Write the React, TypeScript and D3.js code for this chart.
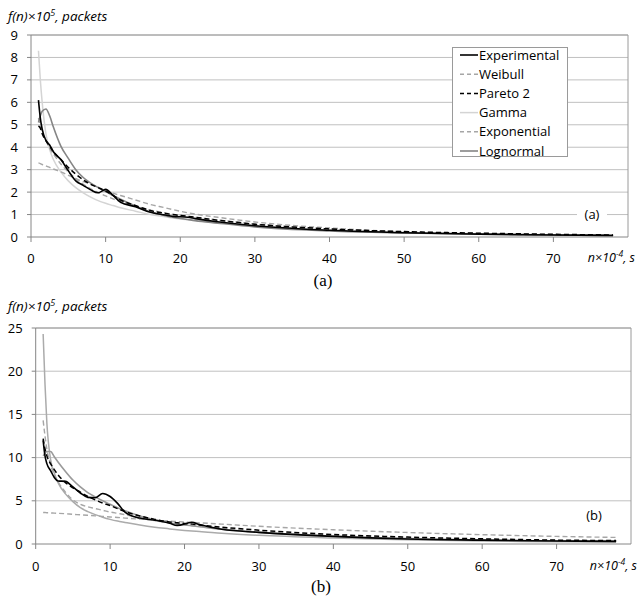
import React from 'react';
import * as d3 from 'd3';

// sample points along n (x 10^-4 s), shared by every series
const nGrid = [1, 1.25, 1.5, 2, 2.5, 3, 4, 5, 6, 7, 8, 9, 10, 11, 12, 14, 16, 18, 19, 21, 22, 25, 30, 40, 50, 60, 70, 78];

// panel (a)
const aExperimental = [6.1, 5.3, 4.8, 4.3, 4.1, 3.8, 3.45, 2.95, 2.5, 2.3, 2.1, 1.97, 2.12, 1.85, 1.55, 1.35, 1.1, 0.98, 0.92, 0.88, 0.82, 0.68, 0.5, 0.3, 0.19, 0.13, 0.09, 0.07];
const aWeibull = [5.3, 5.0, 4.7, 4.3, 3.95, 3.7, 3.25, 2.9, 2.6, 2.35, 2.15, 1.98, 1.83, 1.7, 1.58, 1.38, 1.2, 1.07, 1.01, 0.92, 0.87, 0.76, 0.58, 0.36, 0.23, 0.16, 0.11, 0.08];
const aPareto = [4.95, 4.85, 4.6, 4.3, 4.05, 3.8, 3.45, 3.1, 2.8, 2.55, 2.35, 2.2, 2.05, 1.85, 1.65, 1.4, 1.18, 1.05, 1.0, 0.92, 0.88, 0.75, 0.57, 0.36, 0.24, 0.17, 0.12, 0.09];
const aGamma = [8.3, 7.0, 6.0, 4.6, 3.9, 3.45, 2.9, 2.5, 2.2, 1.97, 1.78, 1.62, 1.5, 1.4, 1.3, 1.15, 1.0, 0.9, 0.85, 0.77, 0.73, 0.63, 0.48, 0.3, 0.2, 0.14, 0.1, 0.08];
const aExponential = [3.3, 3.27, 3.23, 3.17, 3.1, 3.03, 2.9, 2.75, 2.6, 2.47, 2.35, 2.22, 2.05, 1.95, 1.85, 1.65, 1.45, 1.3, 1.22, 1.08, 1.02, 0.88, 0.67, 0.4, 0.23, 0.14, 0.09, 0.07];
const aLognormal = [5.1, 5.4, 5.6, 5.7, 5.4, 4.9, 4.05, 3.5, 3.0, 2.65, 2.4, 2.2, 2.02, 1.85, 1.68, 1.38, 1.12, 0.95, 0.88, 0.78, 0.73, 0.62, 0.45, 0.27, 0.18, 0.12, 0.09, 0.07];

// panel (b)
const bExperimental = [12.0, 10.2, 9.3, 8.5, 7.7, 7.3, 7.25, 6.6, 5.9, 5.4, 5.35, 5.85, 5.5, 4.7, 3.7, 3.0, 2.75, 2.4, 2.15, 2.5, 2.25, 1.7, 1.35, 0.88, 0.58, 0.45, 0.35, 0.3];
const bWeibull = [14.3, 12.5, 11, 9.2, 8.0, 7.2, 6.0, 5.1, 4.6, 4.3, 4.1, 3.9, 3.7, 3.55, 3.4, 3.0, 2.7, 2.45, 2.35, 2.15, 2.05, 1.8, 1.4, 1.0, 0.7, 0.52, 0.4, 0.35];
const bPareto = [12.2, 11.0, 10.2, 9.3, 8.6, 8.0, 7.1, 6.5, 6.0, 5.5, 5.1, 4.75, 4.45, 4.1, 3.75, 3.25, 2.85, 2.55, 2.45, 2.3, 2.2, 1.95, 1.6, 1.1, 0.8, 0.6, 0.45, 0.4];
const bGamma = [24.3, 18.5, 14, 9.8, 8.2, 7.1, 5.8, 4.9, 4.2, 3.75, 3.4, 3.1, 2.85, 2.65, 2.5, 2.2, 1.95, 1.75, 1.65, 1.5, 1.45, 1.25, 1.0, 0.7, 0.5, 0.35, 0.27, 0.22];
const bExponential = [3.65, 3.64, 3.62, 3.6, 3.57, 3.55, 3.5, 3.43, 3.38, 3.32, 3.26, 3.2, 3.13, 3.07, 3.0, 2.88, 2.77, 2.65, 2.6, 2.5, 2.45, 2.3, 2.05, 1.65, 1.33, 1.08, 0.88, 0.76];
const bLognormal = [10.2, 10.5, 10.7, 10.7, 10.1, 9.5, 8.4, 7.4, 6.6, 5.95, 5.45, 5.0, 4.6, 4.2, 3.85, 3.25, 2.8, 2.45, 2.3, 2.1, 2.0, 1.7, 1.35, 0.9, 0.62, 0.45, 0.35, 0.3];

const seriesNames = ['Experimental', 'Weibull', 'Pareto 2', 'Gamma', 'Exponential', 'Lognormal'];
const xTicks = [0, 10, 20, 30, 40, 50, 60, 70];
const aYTicks = [0, 1, 2, 3, 4, 5, 6, 7, 8, 9];
const bYTicks = [0, 5, 10, 15, 20, 25];

const FONT = "'Open Sans', sans-serif";

type Style = { color: string; width: number; dash?: string };

const aStyles: Style[] = [
  { color: '#000000', width: 1.6 },
  { color: '#a6a6a6', width: 1.4, dash: '5,3' },
  { color: '#000000', width: 1.5, dash: '5,3' },
  { color: '#d4d4d4', width: 1.5 },
  { color: '#a6a6a6', width: 1.4, dash: '5,3' },
  { color: '#858585', width: 1.6 },
];
const bStyles: Style[] = [
  { color: '#000000', width: 1.6 },
  { color: '#a6a6a6', width: 1.4, dash: '5,3' },
  { color: '#000000', width: 1.5, dash: '5,3' },
  { color: '#ababab', width: 1.5 },
  { color: '#a6a6a6', width: 1.4, dash: '5,3' },
  { color: '#9a9a9a', width: 1.6 },
];

type PanelProps = {
  left: number; right: number; top: number; bottom: number;
  yMax: number; yTicks: number[];
  series: number[][]; styles: Style[];
  tag: string; tagX: number; tagY: number;
  titleY: number; labelGap: number; unitRight: number; showLegend: boolean;
};

const Panel = (p: PanelProps) => {
  const x = d3.scaleLinear().domain([0, 80]).range([p.left, p.right]);
  const y = d3.scaleLinear().domain([0, p.yMax]).range([p.bottom, p.top]);
  const line = d3.line<number>()
    .x((_, i) => x(nGrid[i]))
    .y(d => y(d))
    .curve(d3.curveMonotoneX);

  // draw order: lighter fits first, experimental on top
  const order = [3, 4, 1, 5, 2, 0];

  return (
    <g>
      <text x={8} y={p.titleY} fontFamily={FONT} fontSize={13.5} fontStyle="italic" fill="#000">
        f(n)×10<tspan dy={-5} fontSize={9}>5</tspan><tspan dy={5}>, packets</tspan>
      </text>
      {p.yTicks.map(t => (
        <g key={t}>
          {t > 0 && <line x1={p.left} x2={p.right} y1={y(t)} y2={y(t)} stroke="#c0c0c0" strokeWidth={1} />}
          <line x1={p.left - 4} x2={p.left} y1={y(t)} y2={y(t)} stroke="#868686" />
          <text x={p.left - 13} y={y(t)} dy="0.35em" textAnchor="end" fontFamily={FONT} fontSize={13} fill="#000">{t}</text>
        </g>
      ))}
      <line x1={p.right} x2={p.right} y1={p.top} y2={p.bottom} stroke="#9a9a9a" />
      <line x1={p.left} x2={p.right} y1={p.top} y2={p.top} stroke="#9a9a9a" />
      <line x1={p.left} x2={p.left} y1={p.top} y2={p.bottom} stroke="#868686" />
      <line x1={p.left} x2={p.right} y1={p.bottom} y2={p.bottom} stroke="#868686" />
      {xTicks.map(t => (
        <g key={t}>
          <line x1={x(t)} x2={x(t)} y1={p.bottom} y2={p.bottom + 5} stroke="#868686" />
          <text x={x(t)} y={p.bottom + p.labelGap} dy="0.35em" textAnchor="middle" fontFamily={FONT} fontSize={13} fill="#000">{t}</text>
        </g>
      ))}
      <text x={p.unitRight} y={p.bottom + p.labelGap} dy="0.35em" textAnchor="end" fontFamily={FONT} fontSize={12.5} fontStyle="italic" fill="#000">
        n×10<tspan dy={-5} fontSize={8.5}>-4</tspan><tspan dy={5}>, s</tspan>
      </text>
      <rect x={p.tagX - 15} y={p.tagY - 7} width={30} height={14} fill="#fff" />
      <text x={p.tagX} y={p.tagY} dy="0.35em" textAnchor="middle" fontFamily={FONT} fontSize={13} fill="#000">{p.tag}</text>
      {order.map(i => (
        <path key={i} d={line(p.series[i]) || ''} fill="none" stroke={p.styles[i].color}
          strokeWidth={p.styles[i].width} strokeDasharray={p.styles[i].dash} />
      ))}
      {p.showLegend && (
        <g>
          <rect x={452.5} y={47.5} width={115} height={109} fill="#fff" stroke="#9a9a9a" />
          {seriesNames.map((name, i) => {
            const ly = 55 + i * 19.2;
            return (
              <g key={name}>
                <line x1={460} x2={478} y1={ly} y2={ly} stroke={p.styles[i].color}
                  strokeWidth={p.styles[i].width} strokeDasharray={p.styles[i].dash ? '4,3' : undefined} />
                <text x={479} y={ly} dy="0.35em" fontFamily={FONT} fontSize={13} fill="#000">{name}</text>
              </g>
            );
          })}
        </g>
      )}
    </g>
  );
};

export default function App() {
  return (
    <svg width={638} height={598} style={{ position: 'absolute', left: 0, top: 0, background: '#fff' }}>
      <Panel left={31} right={628} top={35} bottom={237} yMax={9} yTicks={aYTicks}
        series={[aExperimental, aWeibull, aPareto, aGamma, aExponential, aLognormal]} styles={aStyles}
        tag="(a)" tagX={592} tagY={214} titleY={21} labelGap={21} unitRight={635} showLegend={true} />
      <text x={323} y={286} textAnchor="middle" fontFamily="'Liberation Serif', serif" fontSize={17}>(a)</text>
      <Panel left={35.7} right={631} top={328} bottom={544} yMax={25} yTicks={bYTicks}
        series={[bExperimental, bWeibull, bPareto, bGamma, bExponential, bLognormal]} styles={bStyles}
        tag="(b)" tagX={594} tagY={515} titleY={311} labelGap={22} unitRight={637} showLegend={false} />
      <text x={321} y={592} textAnchor="middle" fontFamily="'Liberation Serif', serif" fontSize={17}>(b)</text>
    </svg>
  );
}
